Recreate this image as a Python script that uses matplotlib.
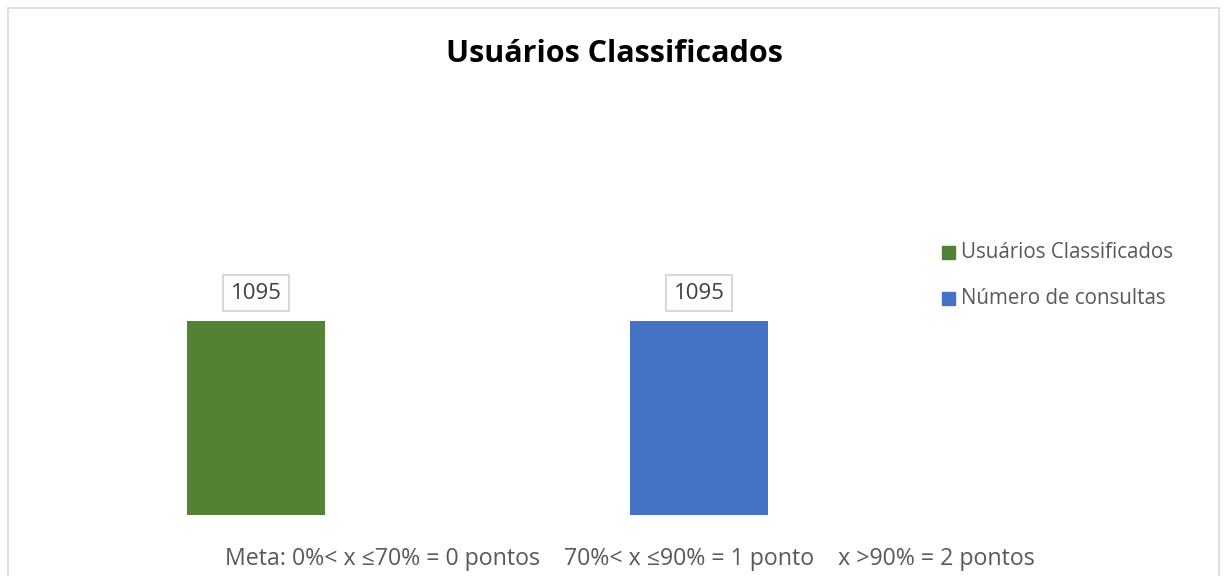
import matplotlib.pyplot as plt
from matplotlib.patches import Rectangle

# Data
series = ["Usuários Classificados", "Número de consultas"]
values = [1095, 1095]
colors = ["#548235", "#4472C4"]
title = "Usuários Classificados"
footnote = "Meta: 0%< x ≤70% = 0 pontos    70%< x ≤90% = 1 ponto    x >90% = 2 pontos"

plt.rcParams["font.family"] = ["Open Sans", "DejaVu Sans"]

W, H = 1224, 576
fig = plt.figure(figsize=(W / 100, H / 100), dpi=100)

# chart border
fig.patches.append(Rectangle((8 / W, -0.05), (1219 - 8) / W, (H - 8) / H + 0.05,
                             transform=fig.transFigure, fill=False,
                             edgecolor="#D9D9D9", linewidth=1.2))

# axes placed in pixel space: x 34.5..920.5, y (from top) 90..515
ax = fig.add_axes([34.5 / W, (H - 515) / H, 886 / W, 425 / H])
ax.set_xlim(-0.5, 1.5)
ax.set_ylim(0, 2400)
ax.axis("off")

x = range(len(values))
bars = ax.bar(x, values, width=0.3115, color=colors, label=series)

for xi, v in zip(x, values):
    ax.annotate(str(v), (xi, v), xytext=(0, 20), textcoords="offset points",
                ha="center", va="center", fontsize=16, color="#404040",
                bbox=dict(boxstyle="square,pad=0.33", fc="white", ec="#D9D9D9", lw=1.5))

fig.text(614 / W, 1 - 54 / H, title, ha="center", va="center",
         fontsize=22, fontweight="bold", color="black")

# legend
for i, (name, c) in enumerate(zip(series, colors)):
    yc = 253 + i * 45
    fig.patches.append(Rectangle((942 / W, 1 - (yc + 6.5) / H), 13 / W, 13 / H,
                                 transform=fig.transFigure, color=c))
    fig.text(961 / W, 1 - yc / H, name, ha="left", va="center",
             fontsize=14.8, color="#595959")

fig.text(630 / W, 1 - 559 / H, footnote, ha="center", va="center",
         fontsize=16.7, color="#595959")

fig.savefig("out.png", dpi=100)
